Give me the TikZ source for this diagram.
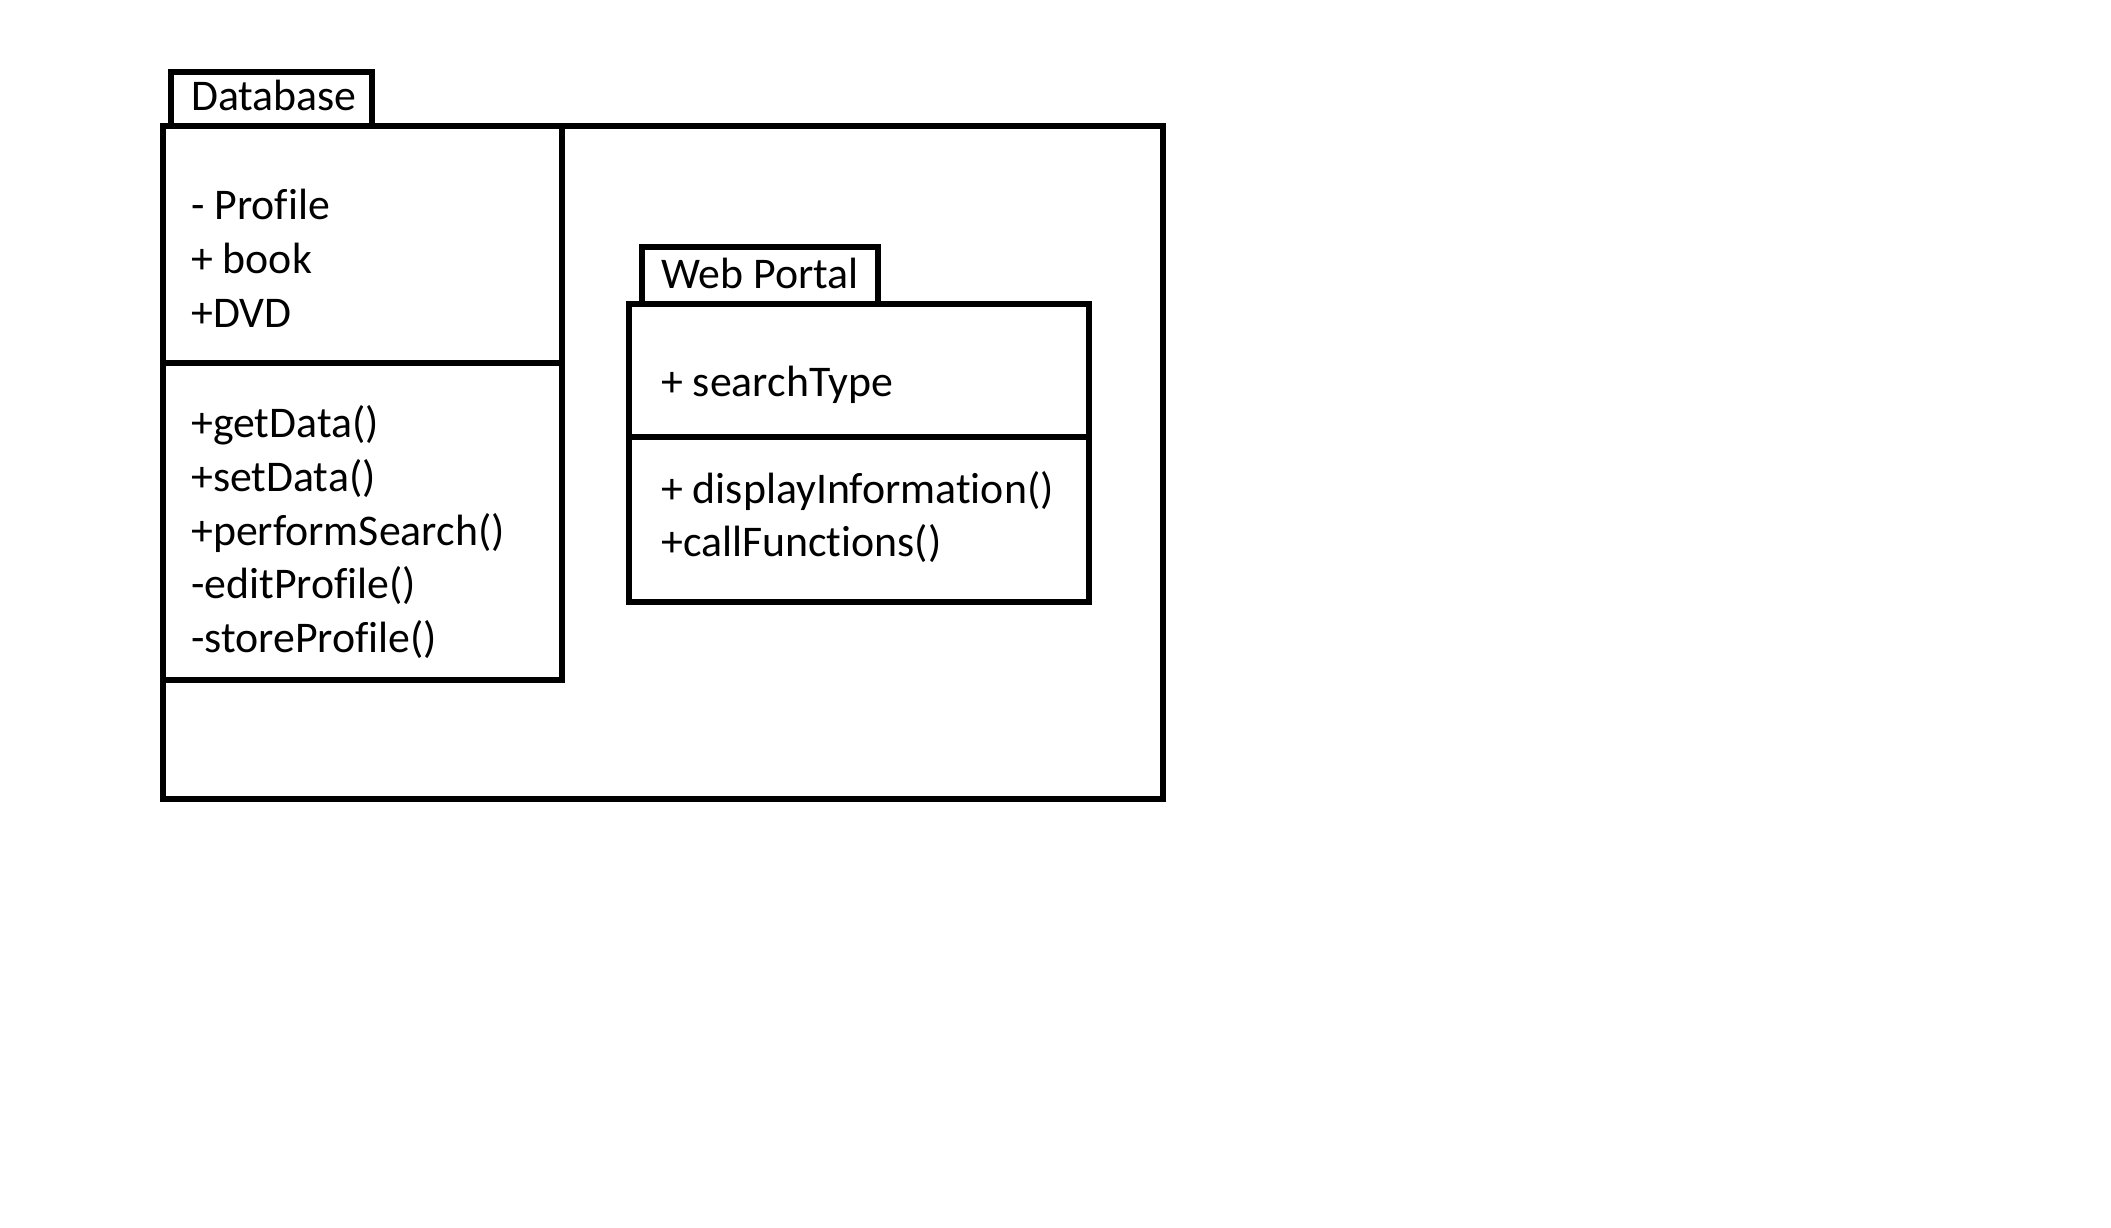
\documentclass[tikz,border=0pt]{standalone}
\usepackage{fontspec}
\setmainfont[Ligatures=NoCommon]{Carlito}
\begin{document}
\begin{tikzpicture}[x=1pt,y=-1pt,
  box/.style={draw=black,line width=5.4pt,fill=white},
  txt/.style={anchor=base west,inner sep=0pt,font=\fontsize{43.8}{54.3}\selectfont}]
\fill[white] (0,0) rectangle (2111,1228);
\useasboundingbox (0,0) rectangle (2111,1228);
% outer frame
\draw[box,fill=none] (163,126) rectangle (1163,799);
% Database
\draw[box] (171,72) rectangle (372,127);
\draw[box] (163,126) rectangle (562,680);
\draw[line width=5.4pt] (163,363) -- (562,363);
\node[txt] (dbt) at (191,111) {Database};
\node[txt] (a1) at (191,219) {- Profile};
\node[txt] (a2) at (191,273) {+ book};
\node[txt] (a3) at (191,327) {+DVD};
\node[txt] (m1) at (191,437) {+getData()};
\node[txt] (m2) at (191,491) {+setData()};
\node[txt] (m3) at (191,545) {+performSearch()};
\node[txt] (m4) at (191,598) {-editProfile()};
\node[txt] (m5) at (191,652) {-storeProfile()};
% Web Portal
\draw[box] (642,247) rectangle (878,304);
\draw[box] (629,304) rectangle (1089,602);
\draw[line width=5.4pt] (629,437) -- (1089,437);
\node[txt] (wpt) at (661,288) {Web Portal};
\node[txt] (w1) at (661,396) {+ searchType};
\node[txt] (w2) at (661,503) {+ displayInformation()};
\node[txt] (w3) at (661,556) {+callFunctions()};
\end{tikzpicture}
\end{document}
